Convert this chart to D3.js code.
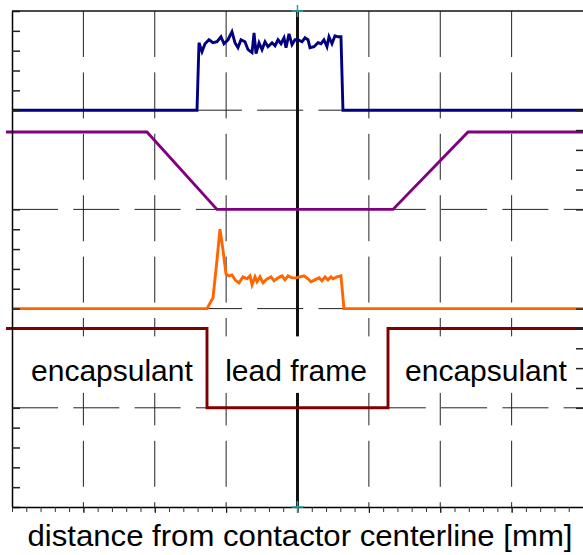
<!DOCTYPE html>
<html><head><meta charset="utf-8">
<script src="https://cdn.jsdelivr.net/npm/d3@7"></script>
<style>body{margin:0;background:#fff}svg{display:block}text{font-family:"Liberation Sans",Arial,sans-serif}</style>
</head><body><svg id="c" width="583" height="555"></svg>
<script>
// ---- data (x in mm, y in screen divisions) ----
const xDomain = [-4, 4];
const yDomain = [0, 5];
const xGrid = [-3, -2, -1, 0, 1, 2, 3];
const yGrid = [1, 2, 3, 4];
const leftTickBands = [[4, 5], [2, 3], [0, 1]];
const rightTickBands = [[3, 4], [1, 2]];

const blueX = [-4.0, -1.408, -1.38, -1.338, -1.296, -1.24, -1.184, -1.128, -1.072, -1.03, -0.974, -0.918, -0.876, -0.834, -0.792, -0.736, -0.693, -0.637, -0.609, -0.581, -0.539, -0.497, -0.455, -0.413, -0.357, -0.315, -0.273, -0.231, -0.189, -0.161, -0.119, -0.077, -0.035, 0.007, 0.063, 0.105, 0.147, 0.175, 0.231, 0.287, 0.329, 0.371, 0.413, 0.441, 0.483, 0.525, 0.567, 0.609, 0.637, 4.0];
const blueY = [4.0, 4.0, 4.68, 4.59, 4.67, 4.71, 4.68, 4.69, 4.74, 4.67, 4.71, 4.79, 4.68, 4.63, 4.71, 4.69, 4.61, 4.58, 4.78, 4.57, 4.68, 4.61, 4.69, 4.64, 4.68, 4.65, 4.71, 4.67, 4.73, 4.63, 4.77, 4.66, 4.71, 4.71, 4.69, 4.73, 4.71, 4.63, 4.64, 4.68, 4.67, 4.71, 4.64, 4.74, 4.67, 4.75, 4.74, 4.74, 4.0, 4.0];

const purpleX = [-4.084, -2.109, -1.128, 1.338, 2.389, 4.0];
const purpleY = [3.78, 3.78, 3.0, 3.0, 3.78, 3.78];

const orangeX = [-4.0, -1.268, -1.184, -1.128, -1.086, -1.044, -1.002, -0.96, -0.918, -0.876, -0.82, -0.764, -0.708, -0.665, -0.637, -0.595, -0.567, -0.525, -0.483, -0.427, -0.371, -0.329, -0.273, -0.217, -0.175, -0.133, -0.077, -0.021, 0.035, 0.091, 0.147, 0.189, 0.245, 0.301, 0.343, 0.385, 0.427, 0.469, 0.497, 0.553, 0.609, 0.651, 4.0];
const orangeY = [2.0, 2.0, 2.11, 2.49, 2.80, 2.59, 2.35, 2.33, 2.34, 2.29, 2.26, 2.32, 2.30, 2.33, 2.24, 2.32, 2.27, 2.32, 2.26, 2.30, 2.32, 2.28, 2.31, 2.33, 2.29, 2.33, 2.31, 2.31, 2.32, 2.33, 2.30, 2.27, 2.29, 2.31, 2.28, 2.32, 2.29, 2.32, 2.30, 2.32, 2.33, 2.0, 2.0];

const maroonX = [-4.084, -1.268, -1.268, 1.268, 1.268, 4.0];
const maroonY = [1.8, 1.8, 1.0, 1.0, 1.8, 1.8];

const regionLabels = ["encapsulant", "lead frame", "encapsulant"];
const regionCenters = [-2.6, -0.02, 2.64];
const xTitle = "distance from contactor centerline [mm]";

// ---- drawing ----
const svg = d3.select("#c");
const L = 12, T = 11, R = 583, B = 507;
const x = d3.scaleLinear().domain(xDomain).range([L, R]);
const y = d3.scaleLinear().domain(yDomain).range([B, T]);

// grid
const g = svg.append("g");
g.selectAll("line.v").data(xGrid).join("line")
  .attr("x1", d => x(d)).attr("x2", d => x(d)).attr("y1", T).attr("y2", B)
  .attr("stroke", "#222").attr("stroke-width", 1).attr("stroke-dasharray", "46,15.4");
g.selectAll("line.h").data(yGrid).join("line")
  .attr("x1", L).attr("x2", R).attr("y1", d => y(d)).attr("y2", d => y(d))
  .attr("stroke", "#222").attr("stroke-width", 1).attr("stroke-dasharray", "46,15.3");

// center line
svg.append("line").attr("x1", x(0)).attr("x2", x(0)).attr("y1", T).attr("y2", B)
  .attr("stroke", "#111").attr("stroke-width", 3);

// label boxes
const boxW = [180, 164, 180];
const lab = svg.append("g");
regionLabels.forEach((t, i) => {
  const cx = x(regionCenters[i]);
  lab.append("rect").attr("x", cx - boxW[i] / 2).attr("y", y(1.72)).attr("width", boxW[i])
    .attr("height", y(1.15) - y(1.72)).attr("fill", "#fff");
  lab.append("text").attr("x", cx).attr("y", y(1.27)).attr("text-anchor", "middle")
    .attr("font-size", 30).attr("fill", "#000").text(t);
});

// traces
const line = d3.line().x(d => x(d[0])).y(d => y(d[1]));
const traces = [
  [purpleX, purpleY, "#800080"],
  [maroonX, maroonY, "#800000"],
  [orangeX, orangeY, "#FF6600"],
  [blueX, blueY, "#000080"]
];
traces.forEach(([xs, ys, c]) => {
  svg.append("path").datum(xs.map((v, i) => [v, ys[i]])).attr("d", line)
    .attr("fill", "none").attr("stroke", c).attr("stroke-width", 2.9).attr("stroke-linejoin", "miter");
});

// axes
const band = bs => bs.flatMap(([a, b]) => d3.range(0, 6).map(k => +(a + k * 0.2).toFixed(2)));
const leftAxis = d3.axisLeft(y).tickValues(band(leftTickBands)).tickSize(-8).tickSizeOuter(0).tickFormat("");
const gl = svg.append("g").attr("transform", `translate(${L},0)`).call(leftAxis);
gl.select(".domain").attr("stroke", "#000").attr("stroke-width", 1.5);
gl.selectAll(".tick line").attr("stroke", "#222").attr("stroke-width", 1.5);

const rightAxis = d3.axisRight(y).tickValues(band(rightTickBands)).tickSize(-7).tickSizeOuter(0).tickFormat("");
const gr = svg.append("g").attr("transform", `translate(${R},0)`).call(rightAxis);
gr.selectAll(".tick line").attr("stroke", "#222").attr("stroke-width", 1.5);

const minorX = d3.range(0, 41).map(k => +(xDomain[0] + k * 0.2).toFixed(2));
const bottomAxis = d3.axisBottom(x).tickValues(minorX).tickSize(5).tickSizeOuter(0).tickFormat("");
const gb = svg.append("g").attr("transform", `translate(0,${B})`).call(bottomAxis);
gb.select(".domain").attr("stroke", "#000").attr("stroke-width", 1.5);
gb.selectAll(".tick line").attr("stroke", "#333").attr("stroke-width", 1);
const majorAxis = d3.axisBottom(x).tickValues(xGrid).tickSize(6).tickSizeOuter(0).tickFormat("");
const gm = svg.append("g").attr("transform", `translate(0,${B})`).call(majorAxis);
gm.select(".domain").remove();
gm.selectAll(".tick line").attr("stroke", "#111").attr("stroke-width", 1);

// top border
svg.append("line").attr("x1", L).attr("x2", R).attr("y1", T).attr("y2", T)
  .attr("stroke", "#111").attr("stroke-width", 1.5);

// teal cursor marks
[5, 0].forEach(v => {
  const px = x(0), py = y(v);
  svg.append("path").attr("d", `M${px - 6},${py}H${px + 6}M${px},${py - 6}V${py + 6}`)
    .attr("stroke", "#2aa0a0").attr("stroke-width", 1.5).attr("fill", "none");
});

// x title
svg.append("text").attr("x", 300).attr("y", 546).attr("text-anchor", "middle")
  .attr("font-size", 30).attr("fill", "#000")
  .attr("textLength", 545).attr("lengthAdjust", "spacingAndGlyphs").text(xTitle);
</script></body></html>
